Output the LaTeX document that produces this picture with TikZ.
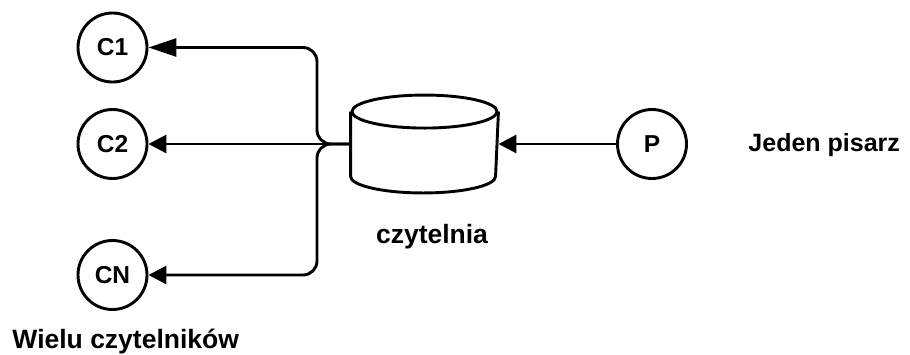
\documentclass[tikz,border=0pt]{standalone}
\usepackage{fontspec}
\setmainfont{Liberation Sans}
\usetikzlibrary{arrows.meta}

\begin{document}
\begin{tikzpicture}[x=1pt,y=-1pt,line width=2.9pt,
  proc/.style={draw,circle,minimum size=69pt,inner sep=0pt,font=\fontsize{24.5}{28}\selectfont\bfseries},
  opis/.style={inner sep=0pt,font=\fontsize{25}{30}\selectfont\bfseries},
  grot/.style={-{Triangle[length=18pt,width=18pt]}},
  grotd/.style={-{Triangle[length=28pt,width=18pt]}}]
\useasboundingbox (0,0) rectangle (910,354);
%\draw[step=50,lightgray,very thin] (0,0) grid (910,354);

\node[proc] (c1) at (112.5,47.5) {C1};
\node[proc] (c2) at (112.5,144) {C2};
\node[proc] (cn) at (112.5,275) {CN};
\node[proc] (p) at (652,144) {P};

% czytelnia (cylinder)
\node[minimum width=145pt,minimum height=95pt,inner sep=0pt] (czyt) at (424.5,144) {};
\draw ([yshift=-16.5pt]czyt.north west) -- ([yshift=16.5pt]czyt.south west)
   arc[start angle=180,end angle=360,x radius=72.5pt,y radius=16.5pt]
   -- ([yshift=-16.5pt]czyt.north east);
\draw ([yshift=-16.5pt]czyt.north) ellipse[x radius=72.5pt,y radius=16.5pt];

\coordinate (bus) at (317,144);

\draw[grotd,rounded corners=14pt] (czyt.west) -- (bus) |- (c1);
\draw[grot] (czyt.west) -- (c2.east);
\draw[grot,rounded corners=14pt] (czyt.west) -- (bus) |- (cn);
\draw[grot] (p.west) -- (czyt.east);

\node[opis,anchor=base,font=\fontsize{26.5}{30}\selectfont\bfseries] (lczyt) at (432,243) {czytelnia};
\node[opis,anchor=base west] (lp) at (747,151) {Jeden pisarz};
\node[opis,anchor=base west,font=\fontsize{26.5}{30}\selectfont\bfseries] (lc) at (11,348) {Wielu czytelników};

\end{tikzpicture}
\end{document}
